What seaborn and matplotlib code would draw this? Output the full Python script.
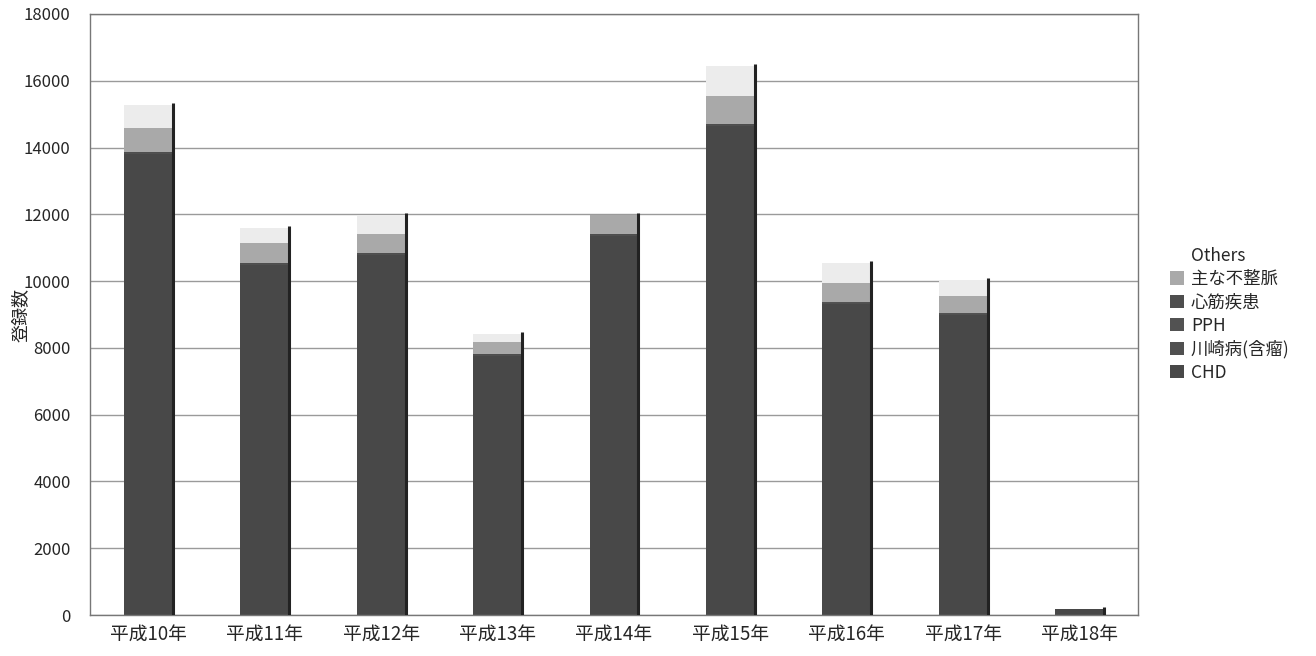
import numpy as np
import pandas as pd
import matplotlib
matplotlib.use("Agg")
import matplotlib.pyplot as plt
import seaborn as sns
from matplotlib.patches import Patch

years = ["平成10年", "平成11年", "平成12年", "平成13年", "平成14年",
         "平成15年", "平成16年", "平成17年", "平成18年"]
chd = [13800, 10480, 10780, 7760, 11350, 14650, 9320, 8990, 170]
kawasaki = [30, 30, 30, 30, 30, 30, 30, 30, 0]
pph = [10, 10, 10, 10, 10, 10, 10, 10, 0]
shinkin = [20, 20, 20, 20, 20, 20, 20, 20, 0]
arrhythmia = [720, 600, 570, 350, 570, 830, 560, 500, 0]
others = [690, 450, 570, 240, 0, 900, 600, 480, 0]

series_names = ["CHD", "川崎病(含瘤)", "PPH", "心筋疾患", "主な不整脈", "Others"]
series_vals = [chd, kawasaki, pph, shinkin, arrhythmia, others]
colors = ["#484848", "#505050", "#525252", "#4e4e4e", "#a9a9a9", "#ececec"]

sns.set_theme(style="white")
plt.rcParams['font.family'] = ['Noto Sans CJK JP', 'DejaVu Sans']

fig = plt.figure(figsize=(13.16, 6.56), dpi=100)
ax = fig.add_axes([90/1316, 41/656, 1048/1316, 601/656])

cum = np.cumsum(np.array(series_vals), axis=0)
bw = 0.42
for i in range(len(series_names) - 1, -1, -1):
    df = pd.DataFrame({"year": years, "v": cum[i]})
    sns.barplot(data=df, x="year", y="v", color=colors[i], width=bw,
                ax=ax, linewidth=0, saturation=1, errorbar=None)

# dark right-edge (depth) line of each bar
xs = np.arange(len(years))
ax.vlines(xs + bw/2, 0, cum[-1] + 60, color="#222222", linewidth=2.2, zorder=5)

ax.set_ylim(0, 18000)
ax.set_xlim(-0.5, len(years) - 0.5)
ax.set_yticks(np.arange(0, 18001, 2000))
ax.yaxis.grid(True, color="#9a9a9a", linewidth=1)
ax.set_axisbelow(True)
ax.set_xlabel("")
ax.set_ylabel("登録数", fontsize=13)
ax.yaxis.set_label_coords(-60/1048, 0.5)
ax.tick_params(axis="y", labelsize=12, length=0, pad=14)
ax.tick_params(axis="x", labelsize=13.5, length=0, pad=6)
ax.set_xticks(np.arange(-0.5, len(years)), minor=True)
ax.tick_params(axis="x", which="minor", length=5, direction="in", color="#555555")
for s in ax.spines.values():
    s.set_color("#777777")
    s.set_linewidth(1)

handles = [Patch(facecolor=colors[i], edgecolor="none", label=series_names[i])
           for i in range(len(series_names) - 1, -1, -1)]
handles[0] = Patch(facecolor="none", edgecolor="none", label="Others")
fig.legend(handles=handles, loc="upper left", bbox_to_anchor=(1163/1316, 1 - 240/656),
           frameon=False, fontsize=12.5, handlelength=0.8, handleheight=0.8,
           handletextpad=0.4, labelspacing=0.3, borderaxespad=0)

fig.savefig("out.png", dpi=100)
